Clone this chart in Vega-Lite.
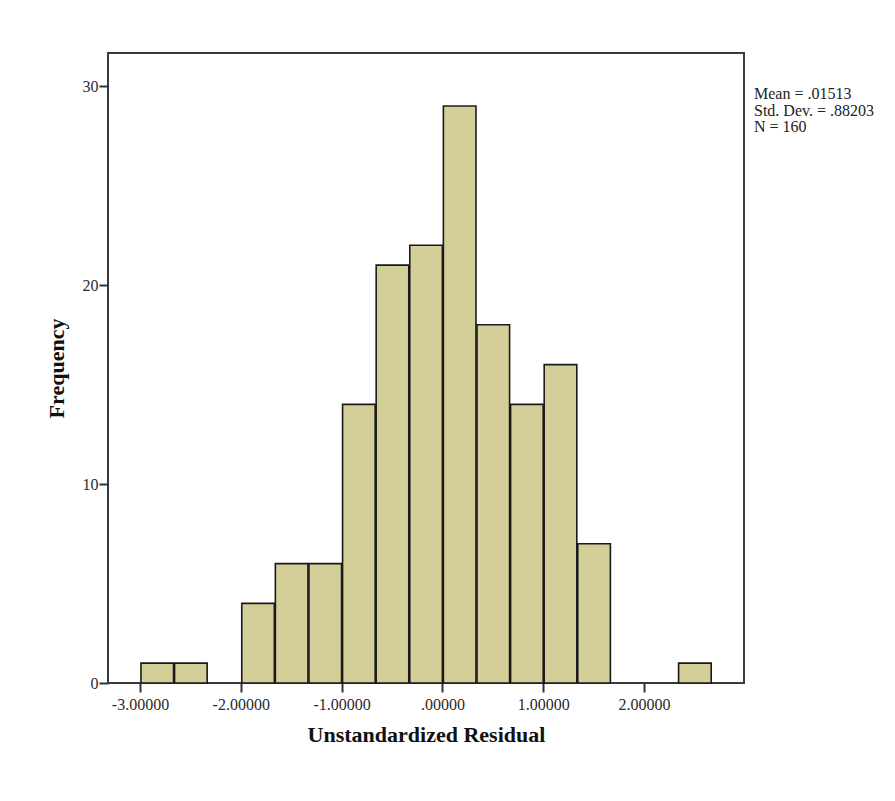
{
  "$schema": "https://vega.github.io/schema/vega-lite/v6.json",
  "width": 636,
  "height": 630,
  "autosize": "none",
  "padding": {"left": 108, "top": 53, "right": 151, "bottom": 118},
  "background": "white",
  "config": {
    "view": {"fill": "#EFEFEF", "stroke": "#3a3a3a", "strokeWidth": 2},
    "font": "Liberation Serif",
    "axis": {
      "domain": false,
      "grid": false,
      "tickSize": 9,
      "tickWidth": 2,
      "tickColor": "#333333",
      "labelFont": "Liberation Serif",
      "labelFontSize": 16,
      "labelColor": "#2a2a2a",
      "titleFont": "Liberation Serif",
      "titleFontSize": 22,
      "titleFontWeight": "bold",
      "titleColor": "#111111"
    }
  },
  "layer": [
    {
      "data": {
        "values": [
          {"bin_start": -3.0, "bin_end": -2.6667, "count": 1},
          {"bin_start": -2.6667, "bin_end": -2.3333, "count": 1},
          {"bin_start": -2.0, "bin_end": -1.6667, "count": 4},
          {"bin_start": -1.6667, "bin_end": -1.3333, "count": 6},
          {"bin_start": -1.3333, "bin_end": -1.0, "count": 6},
          {"bin_start": -1.0, "bin_end": -0.6667, "count": 14},
          {"bin_start": -0.6667, "bin_end": -0.3333, "count": 21},
          {"bin_start": -0.3333, "bin_end": 0.0, "count": 22},
          {"bin_start": 0.0, "bin_end": 0.3333, "count": 29},
          {"bin_start": 0.3333, "bin_end": 0.6667, "count": 18},
          {"bin_start": 0.6667, "bin_end": 1.0, "count": 14},
          {"bin_start": 1.0, "bin_end": 1.3333, "count": 16},
          {"bin_start": 1.3333, "bin_end": 1.6667, "count": 7},
          {"bin_start": 2.3333, "bin_end": 2.6667, "count": 1}
        ]
      },
      "mark": {"type": "bar", "fill": "#D4CF98", "stroke": "#1a1a1a", "strokeWidth": 1.6},
      "encoding": {
        "x": {
          "field": "bin_start",
          "type": "quantitative",
          "bin": {"binned": true},
          "scale": {"domain": [-3.317, 2.992], "nice": false, "zero": false},
          "axis": {
            "title": "Unstandardized Residual",
            "values": [-3, -2, -1, 0, 1, 2],
            "labelExpr": "datum.value == 0 ? '.00000' : (datum.value < 0 ? '-' : '') + format(abs(datum.value), '.5f')",
            "labelPadding": 4,
            "titlePadding": 12
          }
        },
        "x2": {"field": "bin_end"},
        "y": {
          "field": "count",
          "type": "quantitative",
          "scale": {"domain": [0, 31.66], "nice": false},
          "axis": {
            "title": "Frequency",
            "values": [0, 10, 20, 30],
            "labelPadding": 1,
            "titlePadding": 14
          }
        }
      }
    },
    {
      "data": {
        "values": [
          {"stat": "Mean = .01513"},
          {"stat": "Std. Dev. = .88203"},
          {"stat": "N = 160"}
        ]
      },
      "mark": {"type": "point", "opacity": 0},
      "encoding": {
        "color": {
          "field": "stat",
          "type": "nominal",
          "scale": {
            "domain": ["Mean = .01513", "Std. Dev. = .88203", "N = 160"],
            "range": ["#000000", "#000000", "#000000"]
          },
          "legend": {
            "title": null,
            "orient": "none",
            "legendX": 630,
            "legendY": 33,
            "symbolSize": 0,
            "symbolStrokeWidth": 0,
            "labelOffset": 0,
            "labelFont": "Liberation Serif",
            "labelFontSize": 16,
            "labelColor": "#222222",
            "rowPadding": 0.5
          }
        }
      }
    }
  ]
}
